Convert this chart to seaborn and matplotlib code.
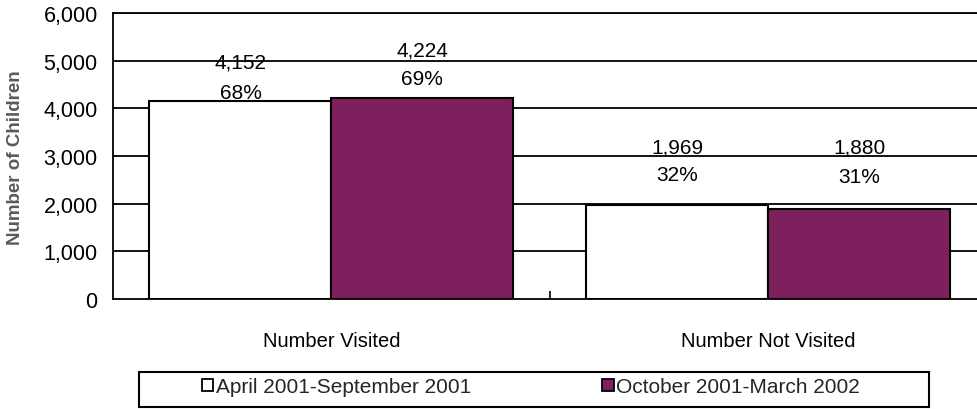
import matplotlib
matplotlib.use("Agg")
import matplotlib.pyplot as plt
import seaborn as sns
import pandas as pd
from matplotlib.patches import Rectangle, Patch

categories = ["Number Visited", "Number Not Visited"]
periods = ["April 2001-September 2001", "October 2001-March 2002"]
values_period1 = [4152, 1969]
values_period2 = [4224, 1880]
pct_period1 = ["68%", "32%"]
pct_period2 = ["69%", "31%"]
y_ticks = [0, 1000, 2000, 3000, 4000, 5000, 6000]

df = pd.DataFrame({
    "category": categories * 2,
    "period": [periods[0]] * 2 + [periods[1]] * 2,
    "value": values_period1 + values_period2,
})

sns.set_theme(style="white")
plt.rcParams["font.family"] = ["Liberation Sans", "DejaVu Sans"]

fig = plt.figure(figsize=(9.78, 4.10), dpi=100)
ax = fig.add_axes([113 / 978, 110 / 410, 865 / 978, 286 / 410])

sns.barplot(data=df, x="category", y="value", hue="period",
            palette=["white", "#7E1F5E"], edgecolor="black", linewidth=1.5,
            width=0.833, saturation=1, ax=ax, legend=False, zorder=3)

ax.set_ylim(0, 6000)
ax.set_xlim(-0.5, 1.48)
ax.set_yticks(y_ticks)
ax.set_yticklabels([f"{v:,}" for v in y_ticks], fontsize=15.5, color="black")
for v in y_ticks[1:]:
    ax.axhline(v, color="black", lw=1.3, zorder=1)

ax.tick_params(axis="y", length=0, pad=11)
ax.tick_params(axis="x", length=0, pad=23, labelsize=14.5, labelcolor="black")
ax.set_xticks([0.5], minor=True)
ax.tick_params(axis="x", which="minor", direction="in", length=6, width=1.2,
               color="black", bottom=True)
ax.set_xlabel("")
ax.set_ylabel("Number of Children", fontsize=13.5, fontweight="bold", color="#5a5a5a")
ax.yaxis.set_label_coords(-0.103, 0.497)

for side in ["left", "bottom", "top"]:
    ax.spines[side].set_visible(True)
    ax.spines[side].set_color("black")
    ax.spines[side].set_linewidth(1.3)
ax.spines["right"].set_visible(False)

# value / percentage labels (offsets in points above bar tops)
val_off = [[28, 34], [42, 45]]   # [category][period]
pct_off = [[6.5, 14], [22, 24]]
bar_w = 0.833 / 2
for i in range(2):
    for j, (vals, pcts) in enumerate([(values_period1, pct_period1),
                                      (values_period2, pct_period2)]):
        x = i + (j - 0.5) * bar_w
        ax.annotate(f"{vals[i]:,}", (x, vals[i]), xytext=(0, val_off[i][j]),
                    textcoords="offset points", ha="center", va="center",
                    fontsize=15, color="black", zorder=5)
        ax.annotate(pcts[i], (x, vals[i]), xytext=(0, pct_off[i][j]),
                    textcoords="offset points", ha="center", va="center",
                    fontsize=15, color="black", zorder=5)

# legend
fig.patches.append(Rectangle((139 / 978, 2 / 410), 790 / 978, 35 / 410,
                             transform=fig.transFigure, fill=False,
                             edgecolor="black", lw=1.5))
handles = [Patch(facecolor="white", edgecolor="black", lw=1.3),
           Patch(facecolor="#7E1F5E", edgecolor="black", lw=1.3)]
fig.legend(handles, periods, loc="center", bbox_to_anchor=(531 / 978, 22 / 410),
           ncol=2, frameon=False, handlelength=0.55,
           handleheight=0.55, handletextpad=0.12, columnspacing=6.3,
           prop={"size": 15})

fig.savefig("out.png", dpi=100)
